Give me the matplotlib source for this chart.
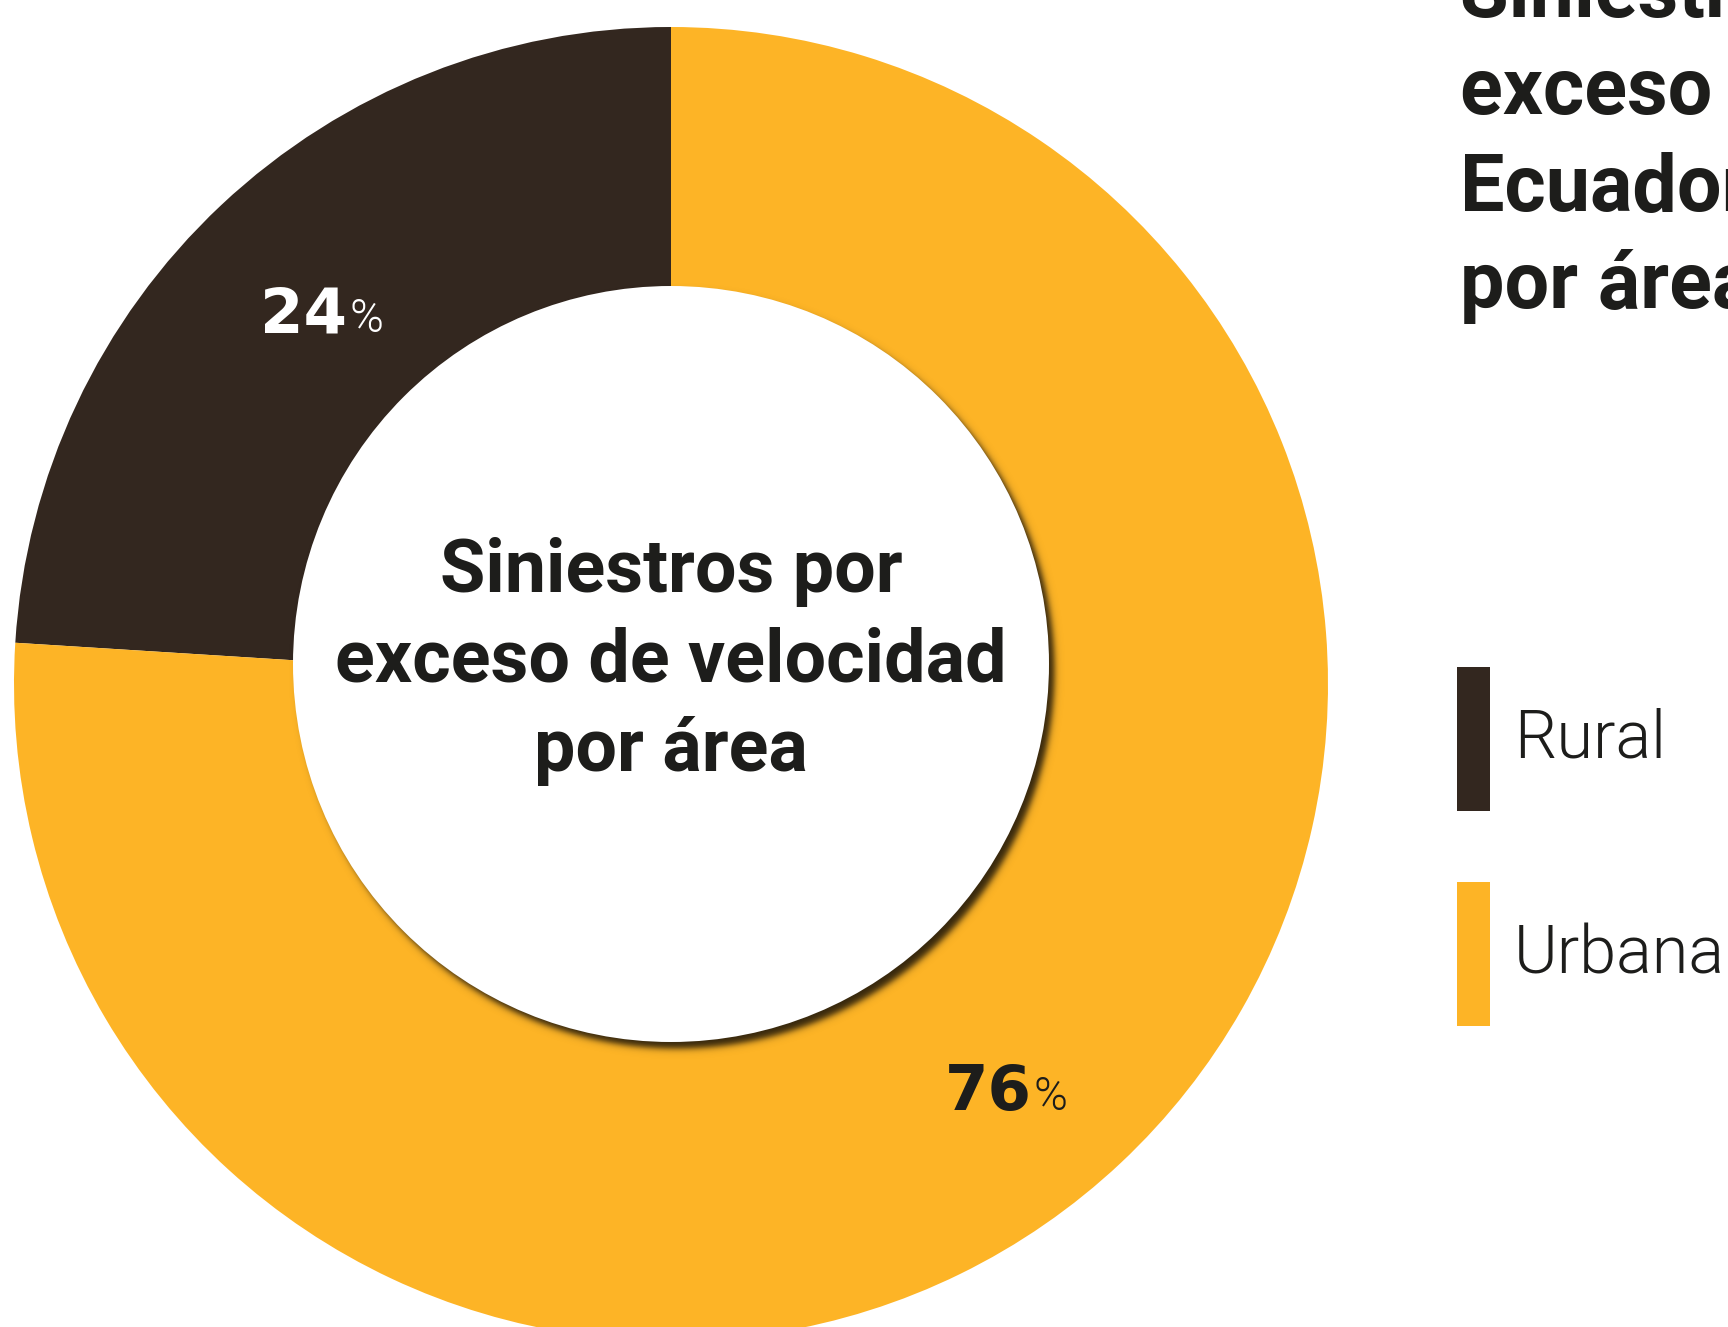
import numpy as np
import matplotlib
matplotlib.use("Agg")
import matplotlib.pyplot as plt
from matplotlib.patches import Circle, Rectangle

# datos
areas = ["Rural", "Urbana"]
porcentajes = [24, 76]
colores = ["#33271F", "#FDB426"]
titulo = ["Siniestros por", "exceso de velocidad en", "Ecuador 2023", "por área"]
texto_centro = ["Siniestros por", "exceso de velocidad", "por área"]

TINTA = "#1D1D1B"
W, H = 1728, 1327

fig = plt.figure(figsize=(W / 100, H / 100), dpi=100)
ax = fig.add_axes([0, 0, 1, 1])

# dona (coordenadas en pixeles, y hacia arriba)
cx, cy, R = 671, H - 684, 657
ax.pie(porcentajes, colors=colores, startangle=90, counterclock=True,
       radius=R, center=(cx, cy), wedgeprops=dict(linewidth=0))

# circulo interior con sombra
icx, icy, r_in = 671, H - 664, 378
sx, sy, sigma = icx + 6, icy - 7, 4.0
pad = 40
xs = np.arange(icx - r_in - pad, icx + r_in + pad)
ys = np.arange(icy - r_in - pad, icy + r_in + pad)
X, Y = np.meshgrid(xs, ys)
d = np.hypot(X - sx, Y - sy)
alpha = 0.9 * 0.5 * (1 - np.tanh((d - r_in) / sigma))
img = np.zeros(X.shape + (4,))
img[..., 0] = 0.12
img[..., 1] = 0.09
img[..., 2] = 0.04
img[..., 3] = alpha
ax.imshow(img, extent=(xs[0], xs[-1], ys[0], ys[-1]), origin="lower",
          zorder=2, interpolation="bilinear")
ax.add_patch(Circle((icx, icy), r_in, facecolor="white", edgecolor="none", zorder=3))

for i, linea in enumerate(texto_centro):
    ax.text(671, H - (592 + 89.5 * i), linea, ha="center", va="baseline",
            fontsize=53, fontweight="bold", color=TINTA,
            family="Roboto", zorder=4)

# etiquetas de porcentaje en el angulo medio de cada sector
inicio = 90
ajustes = [(27, -22), (10, -52)]
for p, col, (ax_x, ax_y) in zip(porcentajes, ["white", TINTA], ajustes):
    medio = np.deg2rad(inicio + p * 3.6 / 2)
    inicio += p * 3.6
    x = cx + 0.78 * R * np.cos(medio) + ax_x
    y = cy + 0.78 * R * np.sin(medio) + ax_y
    ax.text(x, y, str(p), ha="right", va="baseline", fontsize=45,
            fontweight="bold", color=col, family="DejaVu Sans", zorder=4)
    ax.text(x + 2, y, "%", ha="left", va="baseline", fontsize=33,
            fontweight=300, color=col, family="Roboto", zorder=4)

# titulo (cortado en el borde derecho)
for i, linea in enumerate(titulo):
    ax.text(1460, H - (17 + 97 * i), linea, ha="left", va="baseline",
            fontsize=57, fontweight="bold", color=TINTA, family="Roboto")

# leyenda
for i, (nombre, col) in enumerate(zip(areas, colores)):
    top = 667 + 215 * i
    ax.add_patch(Rectangle((1457, H - top - 144), 33, 144, facecolor=col,
                           edgecolor="none"))
    ax.text(1514, H - (758 + 215 * i), nombre, ha="left", va="baseline",
            fontsize=48, fontweight=300, color=TINTA, family="Roboto")

ax.set_xlim(0, W)
ax.set_ylim(0, H)
ax.set_aspect("auto")
ax.axis("off")
fig.savefig("out.png", dpi=100, facecolor="white")
